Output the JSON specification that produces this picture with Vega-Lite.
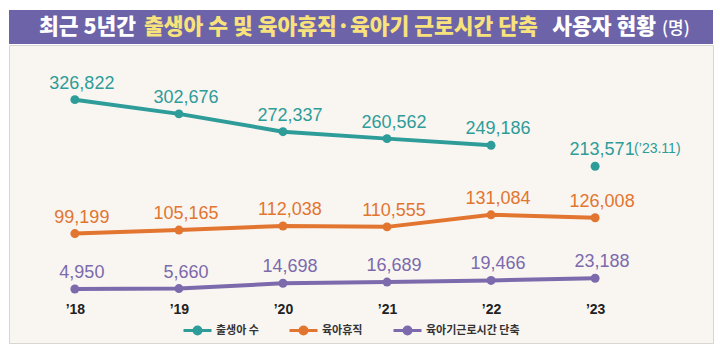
{
  "$schema": "https://vega.github.io/schema/vega-lite/v6.json",
  "background": "#ffffff",
  "padding": {"left": 8, "top": 10, "right": 8, "bottom": 0},
  "autosize": {"type": "pad"},
  "spacing": 0,
  "config": {"concat": {"spacing": 0}, "view": {"stroke": null}, "font": "Liberation Sans"},
  "datasets": {
    "banner": [
      {"part": "a", "text": "최근 5년간"},
      {"part": "b", "text": "출생아 수 및 육아휴직·육아기 근로시간 단축"},
      {"part": "c", "text": "사용자 현황"},
      {"part": "d", "text": "(명)"}
    ],
    "stats": [
      {"series": "출생아 수", "year": 2018, "value": 326822},
      {"series": "출생아 수", "year": 2019, "value": 302676},
      {"series": "출생아 수", "year": 2020, "value": 272337},
      {"series": "출생아 수", "year": 2021, "value": 260562},
      {"series": "출생아 수", "year": 2022, "value": 249186},
      {"series": "출생아 수", "year": 2023, "value": 213571, "note": "(’23.11)"},
      {"series": "육아휴직", "year": 2018, "value": 99199},
      {"series": "육아휴직", "year": 2019, "value": 105165},
      {"series": "육아휴직", "year": 2020, "value": 112038},
      {"series": "육아휴직", "year": 2021, "value": 110555},
      {"series": "육아휴직", "year": 2022, "value": 131084},
      {"series": "육아휴직", "year": 2023, "value": 126008},
      {"series": "육아기근로시간 단축", "year": 2018, "value": 4950},
      {"series": "육아기근로시간 단축", "year": 2019, "value": 5660},
      {"series": "육아기근로시간 단축", "year": 2020, "value": 14698},
      {"series": "육아기근로시간 단축", "year": 2021, "value": 16689},
      {"series": "육아기근로시간 단축", "year": 2022, "value": 19466},
      {"series": "육아기근로시간 단축", "year": 2023, "value": 23188}
    ]
  },
  "vconcat": [
    {
      "width": 704,
      "height": 34,
      "view": {"fill": "#6d63a8", "stroke": null},
      "data": {"name": "banner"},
      "layer": [
        {
          "transform": [{"filter": "datum.part == 'a'"}],
          "mark": {"type": "text", "align": "left", "baseline": "middle", "dx": -322, "dy": 1, "font": "Noto Sans CJK KR", "fontWeight": 900, "fontSize": 21.5, "color": "#ffffff"},
          "encoding": {"text": {"field": "text"}}
        },
        {
          "transform": [{"filter": "datum.part == 'b'"}],
          "mark": {"type": "text", "align": "left", "baseline": "middle", "dx": -217, "dy": 1, "font": "Noto Sans CJK KR", "fontWeight": 900, "fontSize": 21.5, "color": "#f8e27c"},
          "encoding": {"text": {"field": "text"}}
        },
        {
          "transform": [{"filter": "datum.part == 'c'"}],
          "mark": {"type": "text", "align": "right", "baseline": "middle", "dx": 295, "dy": 1, "font": "Noto Sans CJK KR", "fontWeight": 900, "fontSize": 21.5, "color": "#ffffff"},
          "encoding": {"text": {"field": "text"}}
        },
        {
          "transform": [{"filter": "datum.part == 'd'"}],
          "mark": {"type": "text", "align": "left", "baseline": "middle", "dx": 301, "dy": 2, "font": "Noto Sans CJK KR", "fontWeight": 500, "fontSize": 17, "color": "#ffffff"},
          "encoding": {"text": {"field": "text"}}
        }
      ]
    },
    {
      "width": 704,
      "height": 298,
      "view": {"fill": "#f9f6f2", "stroke": "#d9d6d2"},
      "data": {"name": "stats"},
      "encoding": {
        "x": {
          "field": "year",
          "type": "quantitative",
          "scale": {"domain": [2017.367, 2024.133], "nice": false, "zero": false},
          "axis": {
            "values": [2018, 2019, 2020, 2021, 2022, 2023],
            "labelExpr": "'’' + substring(toString(datum.value), 2)",
            "title": null,
            "grid": false,
            "domain": false,
            "ticks": false,
            "offset": -41,
            "labelPadding": 0,
            "labelFont": "Liberation Sans",
            "labelFontSize": 14,
            "labelFontWeight": "bold",
            "labelColor": "#222222"
          }
        },
        "y": {
          "field": "value",
          "type": "quantitative",
          "scale": {"domain": [-86870, 419730], "nice": false, "zero": false},
          "axis": null
        },
        "color": {
          "field": "series",
          "type": "nominal",
          "scale": {
            "domain": ["출생아 수", "육아휴직", "육아기근로시간 단축"],
            "range": ["#2e9c98", "#e2752f", "#7c6aac"]
          },
          "legend": {
            "orient": "none",
            "legendX": 173,
            "legendY": 305,
            "direction": "horizontal",
            "title": null,
            "symbolType": "M-1,0H-0.26M0.26,0H1M-0.25,0A0.25,0.25,0,1,1,0.25,0A0.25,0.25,0,1,1,-0.25,0Z",
            "symbolSize": 784,
            "symbolStrokeWidth": 3,
            "labelFont": "Noto Sans CJK KR",
            "labelFontSize": 11,
            "labelFontWeight": "bold",
            "labelColor": "#333333",
            "labelOffset": 3,
            "columnPadding": 24
          }
        }
      },
      "layer": [
        {
          "transform": [{"filter": "!isValid(datum.note)"}],
          "mark": {"type": "line", "strokeWidth": 4},
          "encoding": {"detail": {"field": "series"}}
        },
        {
          "mark": {"type": "point", "filled": true, "size": 80, "opacity": 1}
        },
        {
          "mark": {"type": "text", "fontSize": 18, "dx": 7, "dy": -11, "baseline": "alphabetic", "font": "Liberation Sans"},
          "encoding": {"text": {"field": "value", "type": "quantitative", "format": ","}}
        },
        {
          "transform": [{"filter": "isValid(datum.note)"}],
          "mark": {"type": "text", "fontSize": 14, "dx": 39, "dy": -13, "align": "left", "baseline": "alphabetic", "font": "Liberation Sans"},
          "encoding": {"text": {"field": "note"}}
        }
      ]
    }
  ]
}
